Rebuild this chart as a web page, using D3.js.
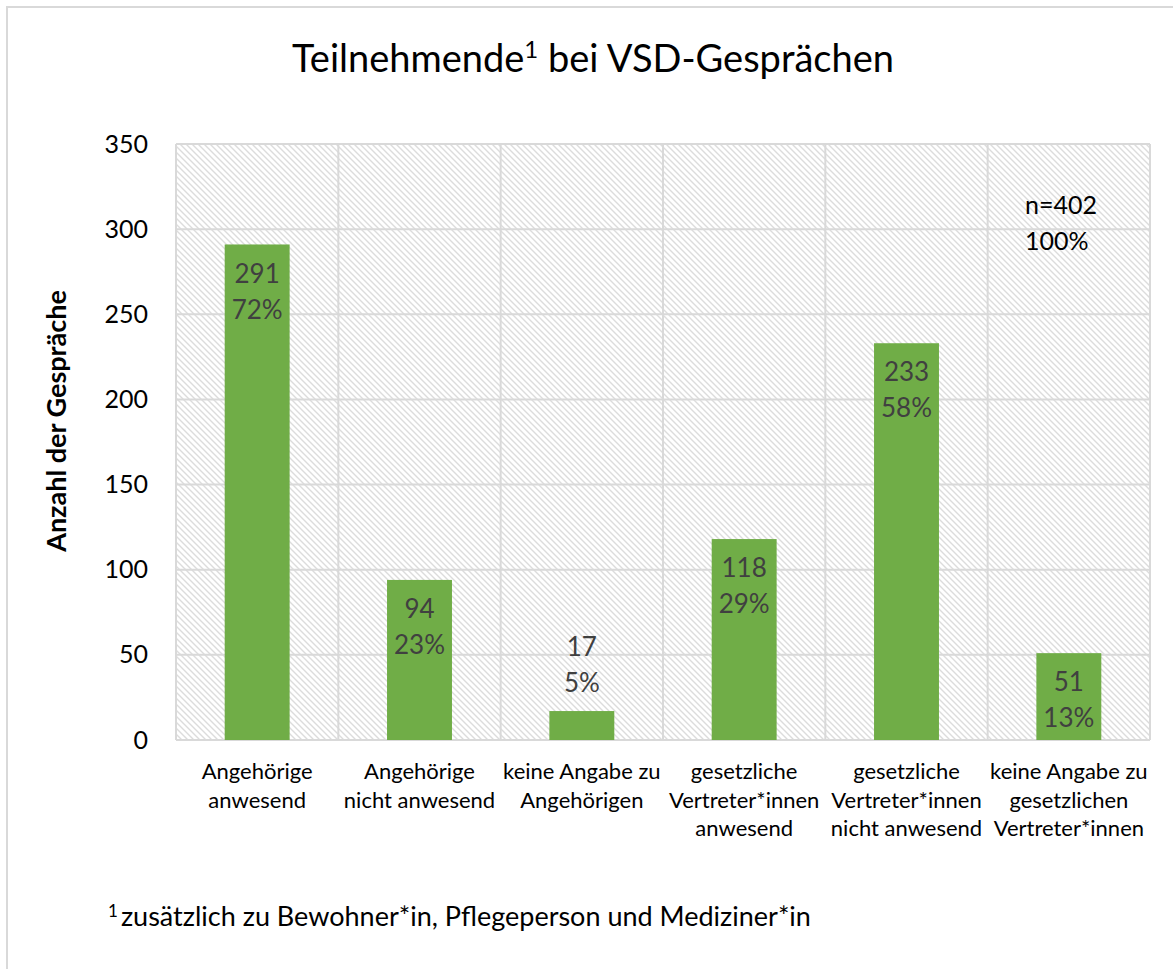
<!DOCTYPE html>
<html>
  <head>
    <meta charset="utf-8">
    <script src="https://d3js.org/d3.v7.min.js"></script>
  </head>
  <style>
    body { margin: 0; background: #fff; }
    text { font-family: Lato, "Open Sans", sans-serif; }
  </style>
  <body>
    <svg></svg>
    <script>
      // chart data
      const categories = [
        ["Angehörige", "anwesend"],
        ["Angehörige", "nicht anwesend"],
        ["keine Angabe zu", "Angehörigen"],
        ["gesetzliche", "Vertreter*innen", "anwesend"],
        ["gesetzliche", "Vertreter*innen", "nicht anwesend"],
        ["keine Angabe zu", "gesetzlichen", "Vertreter*innen"]
      ];
      const counts = [291, 94, 17, 118, 233, 51];
      const percents = ["72%", "23%", "5%", "29%", "58%", "13%"];
      const yTicks = [0, 50, 100, 150, 200, 250, 300, 350];

      const W = 1173, H = 969;
      const svg = d3.select("svg").attr("width", W).attr("height", H);

      // hatch pattern for plot background
      const defs = svg.append("defs");
      const pat = defs.append("pattern")
        .attr("id", "hatch")
        .attr("patternUnits", "userSpaceOnUse")
        .attr("width", 6).attr("height", 6);
      pat.append("path")
        .attr("d", "M0,0 L6,6 M-1,5 L1,7 M5,-1 L7,1")
        .attr("stroke", "#dcdcdc")
        .attr("stroke-width", 1.4);

      // outer chart border (only top and left visible)
      svg.append("path")
        .attr("d", `M7,${H} L7,7 L${W},7`)
        .attr("fill", "none")
        .attr("stroke", "#d9d9d9")
        .attr("stroke-width", 2);

      const pLeft = 176, pRight = 1150, pTop = 144, pBottom = 740;

      const x = d3.scaleBand()
        .domain(d3.range(categories.length))
        .range([pLeft, pRight])
        .paddingInner(0).paddingOuter(0);
      const y = d3.scaleLinear().domain([0, 350]).range([pBottom, pTop]);

      svg.append("rect")
        .attr("x", pLeft).attr("y", pTop)
        .attr("width", pRight - pLeft).attr("height", pBottom - pTop)
        .attr("fill", "url(#hatch)");

      // gridlines
      svg.append("g").selectAll("line")
        .data(yTicks)
        .join("line")
        .attr("x1", pLeft).attr("x2", pRight)
        .attr("y1", d => y(d)).attr("y2", d => y(d))
        .attr("stroke", "#d9d9d9").attr("stroke-width", 2);
      svg.append("g").selectAll("line")
        .data(d3.range(categories.length + 1))
        .join("line")
        .attr("x1", d => pLeft + d * x.bandwidth())
        .attr("x2", d => pLeft + d * x.bandwidth())
        .attr("y1", pTop).attr("y2", pBottom)
        .attr("stroke", "#d9d9d9").attr("stroke-width", 2);

      // y axis labels
      const yAxis = d3.axisLeft(y).tickValues(yTicks).tickSize(0).tickPadding(28);
      const ga = svg.append("g").attr("transform", `translate(${pLeft},0)`).call(yAxis);
      ga.select(".domain").remove();
      ga.selectAll("text")
        .style("font-family", "Lato, sans-serif")
        .attr("font-size", 25).attr("fill", "#000");

      // bars
      const barW = x.bandwidth() * 0.4;
      svg.append("g").selectAll("rect")
        .data(counts)
        .join("rect")
        .attr("x", (d, i) => x(i) + (x.bandwidth() - barW) / 2)
        .attr("y", d => y(d))
        .attr("width", barW)
        .attr("height", d => pBottom - y(d))
        .attr("fill", "#70ad47");

      // data labels
      const lab = svg.append("g").selectAll("g")
        .data(counts)
        .join("g")
        .attr("transform", (d, i) => {
          const inside = pBottom - y(d) > 60;
          const yy = inside ? y(d) + 29 : y(d) - 64;
          return `translate(${x(i) + x.bandwidth() / 2},${yy})`;
        });
      lab.append("text")
        .attr("text-anchor", "middle").attr("dy", "0.35em")
        .attr("font-size", 26).attr("fill", "#404040")
        .text(d => d);
      lab.append("text")
        .attr("text-anchor", "middle").attr("dy", "0.35em").attr("y", 36)
        .attr("font-size", 26).attr("fill", "#404040")
        .text((d, i) => percents[i]);

      // n annotation
      svg.append("text").attr("x", 1025).attr("y", 214)
        .attr("font-size", 25).attr("fill", "#000").text("n=402");
      svg.append("text").attr("x", 1025).attr("y", 250)
        .attr("font-size", 25).attr("fill", "#000").text("100%");

      // category labels
      const cl = svg.append("g").selectAll("text")
        .data(categories)
        .join("text")
        .attr("text-anchor", "middle")
        .attr("font-size", 22)
        .attr("fill", "#000")
        .attr("transform", (d, i) => `translate(${x(i) + x.bandwidth() / 2},779)`);
      cl.selectAll("tspan")
        .data(d => d)
        .join("tspan")
        .attr("x", 0)
        .attr("y", (d, j) => j * 28.5)
        .text(d => d);

      // y axis title
      svg.append("text")
        .attr("transform", "translate(66,421) rotate(-90)")
        .attr("text-anchor", "middle")
        .attr("font-size", 27).attr("font-weight", "bold")
        .text("Anzahl der Gespräche");

      // title
      const t = svg.append("text")
        .attr("x", 593).attr("y", 72)
        .attr("text-anchor", "middle")
        .attr("font-size", 38).attr("fill", "#000");
      t.append("tspan").text("Teilnehmende");
      t.append("tspan").attr("font-size", 24).attr("dy", -14).text("1");
      t.append("tspan").attr("dy", 14).text(" bei VSD-Gesprächen");

      // footnote
      const f = svg.append("text").attr("x", 108).attr("y", 926)
        .attr("font-size", 27).attr("fill", "#000");
      f.append("tspan").attr("font-size", 17).attr("dy", -9).text("1");
      f.append("tspan").attr("dy", 9).attr("dx", 3).text("zusätzlich zu Bewohner*in, Pflegeperson und Mediziner*in");
    </script>
  </body>
</html>
